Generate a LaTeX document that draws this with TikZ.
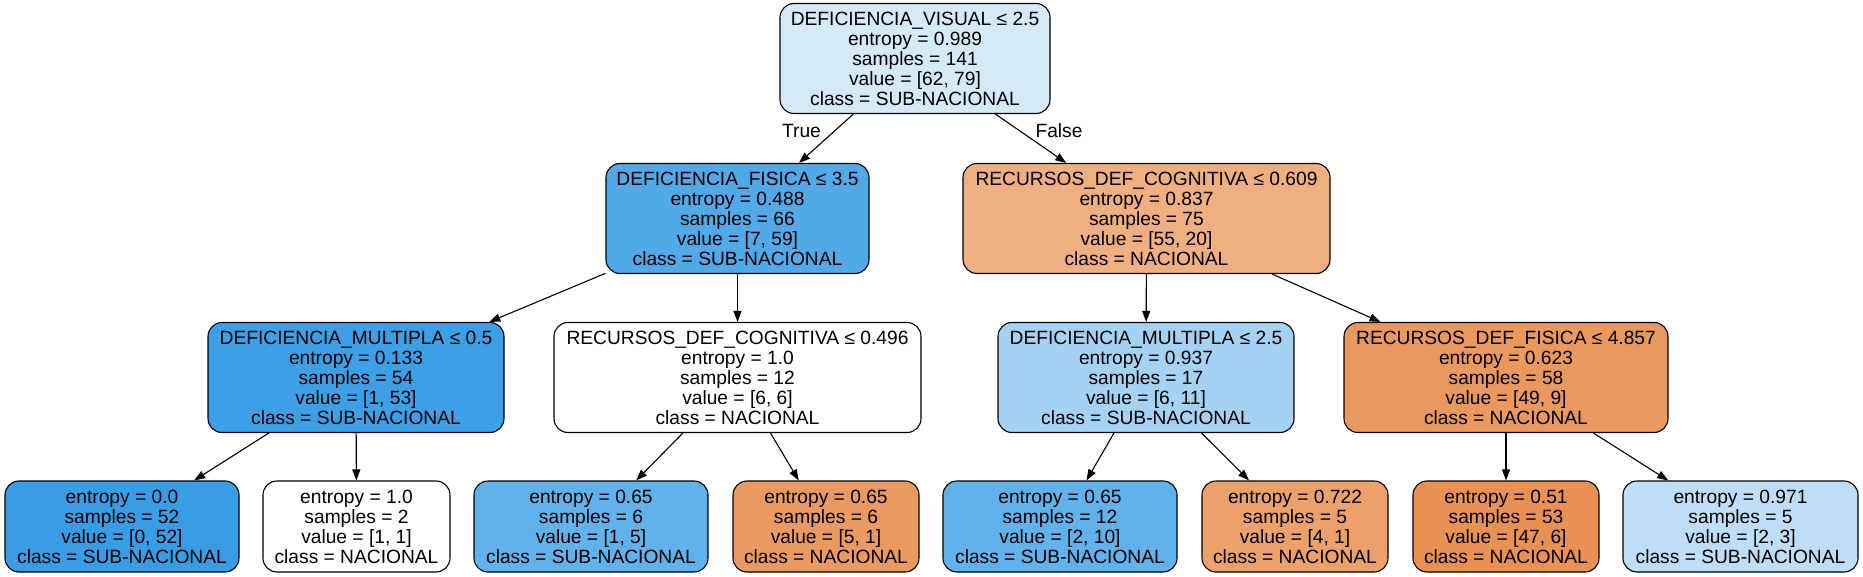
\documentclass[tikz,border=0pt]{standalone}
\usepackage{fontspec}
\setmainfont{Liberation Sans}
\usetikzlibrary{arrows.meta}
\definecolor{cRoot}{RGB}{212,234,249}
\definecolor{cDF}{RGB}{81,169,232}
\definecolor{cRDCa}{RGB}{239,175,129}
\definecolor{cDMa}{RGB}{61,159,230}
\definecolor{cRDCb}{RGB}{255,255,255}
\definecolor{cDMb}{RGB}{165,210,243}
\definecolor{cRDF}{RGB}{234,152,93}
\definecolor{cLa}{RGB}{57,157,229}
\definecolor{cLb}{RGB}{255,255,255}
\definecolor{cLc}{RGB}{97,177,234}
\definecolor{cLd}{RGB}{234,154,97}
\definecolor{cLe}{RGB}{97,177,234}
\definecolor{cLf}{RGB}{236,161,107}
\definecolor{cLg}{RGB}{232,145,82}
\definecolor{cLh}{RGB}{189,222,246}
\begin{document}
\begin{tikzpicture}[x=1pt,y=-1pt,
  treenode/.style={draw=black, line width=1.1pt, rounded corners=14pt, inner sep=0pt,
    align=center, font=\fontsize{19.2}{20}\selectfont, minimum height=110pt},
  leafnode/.style={treenode, minimum height=91pt},
  edgeline/.style={line width=1.1pt, -{Triangle[length=11pt,width=8pt]}},
  edgelabel/.style={font=\fontsize{19.2}{20}\selectfont, inner sep=0pt, anchor=base}
]
\useasboundingbox (0,0) rectangle (1863,577);

% level 0
\node[treenode, fill=cRoot, minimum width=270pt] (root) at (915,58.5)
 {DEFICIENCIA\_VISUAL ≤ 2.5\\entropy = 0.989\\samples = 141\\value = [62, 79]\\class = SUB-NACIONAL};

% level 1
\node[treenode, fill=cDF, minimum width=263pt] (df) at (737.5,218.5)
 {DEFICIENCIA\_FISICA ≤ 3.5\\entropy = 0.488\\samples = 66\\value = [7, 59]\\class = SUB-NACIONAL};
\node[treenode, fill=cRDCa, minimum width=367pt] (rdca) at (1146.5,218.5)
 {RECURSOS\_DEF\_COGNITIVA ≤ 0.609\\entropy = 0.837\\samples = 75\\value = [55, 20]\\class = NACIONAL};

% level 2
\node[treenode, fill=cDMa, minimum width=296pt] (dma) at (356,377.5)
 {DEFICIENCIA\_MULTIPLA ≤ 0.5\\entropy = 0.133\\samples = 54\\value = [1, 53]\\class = SUB-NACIONAL};
\node[treenode, fill=cRDCb, minimum width=367pt] (rdcb) at (737.5,377.5)
 {RECURSOS\_DEF\_COGNITIVA ≤ 0.496\\entropy = 1.0\\samples = 12\\value = [6, 6]\\class = NACIONAL};
\node[treenode, fill=cDMb, minimum width=296pt] (dmb) at (1146,377.5)
 {DEFICIENCIA\_MULTIPLA ≤ 2.5\\entropy = 0.937\\samples = 17\\value = [6, 11]\\class = SUB-NACIONAL};
\node[treenode, fill=cRDF, minimum width=324pt] (rdf) at (1506,377.5)
 {RECURSOS\_DEF\_FISICA ≤ 4.857\\entropy = 0.623\\samples = 58\\value = [49, 9]\\class = NACIONAL};

% level 3
\node[leafnode, fill=cLa, minimum width=234pt] (la) at (122,526.5)
 {entropy = 0.0\\samples = 52\\value = [0, 52]\\class = SUB-NACIONAL};
\node[leafnode, fill=cLb, minimum width=187pt] (lb) at (356.5,526.5)
 {entropy = 1.0\\samples = 2\\value = [1, 1]\\class = NACIONAL};
\node[leafnode, fill=cLc, minimum width=234pt] (lc) at (591,526.5)
 {entropy = 0.65\\samples = 6\\value = [1, 5]\\class = SUB-NACIONAL};
\node[leafnode, fill=cLd, minimum width=186pt] (ld) at (826,526.5)
 {entropy = 0.65\\samples = 6\\value = [5, 1]\\class = NACIONAL};
\node[leafnode, fill=cLe, minimum width=234pt] (le) at (1060,526.5)
 {entropy = 0.65\\samples = 12\\value = [2, 10]\\class = SUB-NACIONAL};
\node[leafnode, fill=cLf, minimum width=186pt] (lf) at (1295,526.5)
 {entropy = 0.722\\samples = 5\\value = [4, 1]\\class = NACIONAL};
\node[leafnode, fill=cLg, minimum width=186pt] (lg) at (1506,526.5)
 {entropy = 0.51\\samples = 53\\value = [47, 6]\\class = NACIONAL};
\node[leafnode, fill=cLh, minimum width=235pt] (lh) at (1740.5,526.5)
 {entropy = 0.971\\samples = 5\\value = [2, 3]\\class = SUB-NACIONAL};

% edges
\draw[edgeline] (root) -- (df);
\draw[edgeline] (root) -- (rdca);
\draw[edgeline] (df) -- (dma);
\draw[edgeline] (df) -- (rdcb);
\draw[edgeline] (rdca) -- (dmb);
\draw[edgeline] (rdca) -- (rdf);
\draw[edgeline] (dma) -- (la);
\draw[edgeline] (dma) -- (lb);
\draw[edgeline] (rdcb) -- (lc);
\draw[edgeline] (rdcb) -- (ld);
\draw[edgeline] (dmb) -- (le);
\draw[edgeline] (dmb) -- (lf);
\draw[edgeline] (rdf) -- (lg);
\draw[edgeline] (rdf) -- (lh);

% edge labels
\node[edgelabel] (lbltrue) at (801.5,137.5) {True};
\node[edgelabel] (lblfalse) at (1059,137.5) {False};
\end{tikzpicture}
\end{document}
